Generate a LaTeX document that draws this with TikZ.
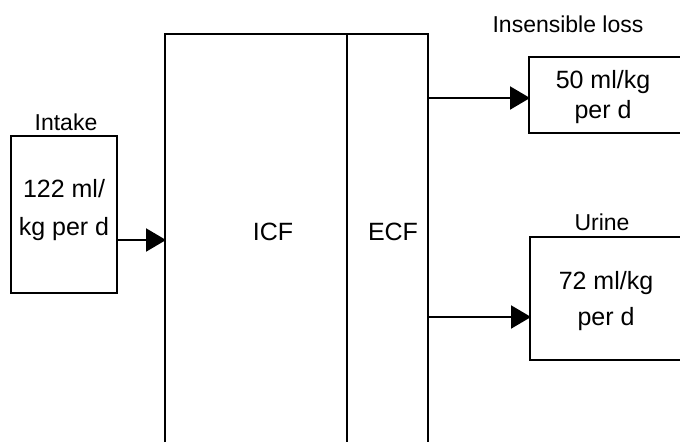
\documentclass[tikz,border=0pt]{standalone}
\usepackage{fontspec}
\setmainfont{Liberation Sans}
\usetikzlibrary{arrows.meta}
\begin{document}
\begin{tikzpicture}[x=1pt,y=-1pt,
  lw/.style={line width=2.2pt},
  boxtext/.style={font=\fontsize{25}{38}\selectfont, align=center, inner sep=0pt},
  labeltext/.style={font=\fontsize{23}{26}\selectfont, inner sep=0pt},
  arr/.style={lw, -{Triangle[length=20pt,width=23pt]}, shorten >=-1pt}]
\useasboundingbox (0,0) rectangle (680,442);
% compartments (open at the bottom)
\coordinate (tl) at (165,34);
\coordinate (tm) at (347,34);
\coordinate (tr) at (428,34);
\draw[lw] (165,442) -- (tl) -- (tr) -- (428,442);
\draw[lw] (tm) -- (347,442);
\node[font=\fontsize{25}{28}\selectfont] (icf) at (273,232) {ICF};
\node[font=\fontsize{25}{28}\selectfont] (ecf) at (393,232) {ECF};
% intake
\node[draw, lw, minimum width=106pt, minimum height=157pt, inner sep=0pt] (intake) at (64,214.5) {};
\node[labeltext] (intakelbl) at (66,122) {Intake};
\node[boxtext] (intaketxt) at (64,210) {122 ml/\\kg per d};
\coordinate (icfin) at (165,240);
\draw[arr] (intake.east |- icfin) -- (icfin);
% insensible loss
\coordinate (ins) at (529,95);
\draw[lw] (680,57) -- (529,57) -- (529,133) -- (680,133);
\node[labeltext] (inslbl) at (568,24) {Insensible loss};
\node[boxtext, font=\fontsize{25}{30}\selectfont] (instxt) at (603,97) {50 ml/kg\\per d};
\coordinate (ecfout1) at (428,98);
\draw[arr] (ecfout1) -- (ins |- ecfout1);
% urine
\coordinate (uri) at (530,298);
\draw[lw] (680,237) -- (530,237) -- (530,360) -- (680,360);
\node[labeltext] (urilbl) at (602,222) {Urine};
\node[boxtext, font=\fontsize{25}{36}\selectfont] (uritxt) at (606,301) {72 ml/kg\\per d};
\coordinate (ecfout2) at (428,317);
\draw[arr] (ecfout2) -- (uri |- ecfout2);
\end{tikzpicture}
\end{document}
